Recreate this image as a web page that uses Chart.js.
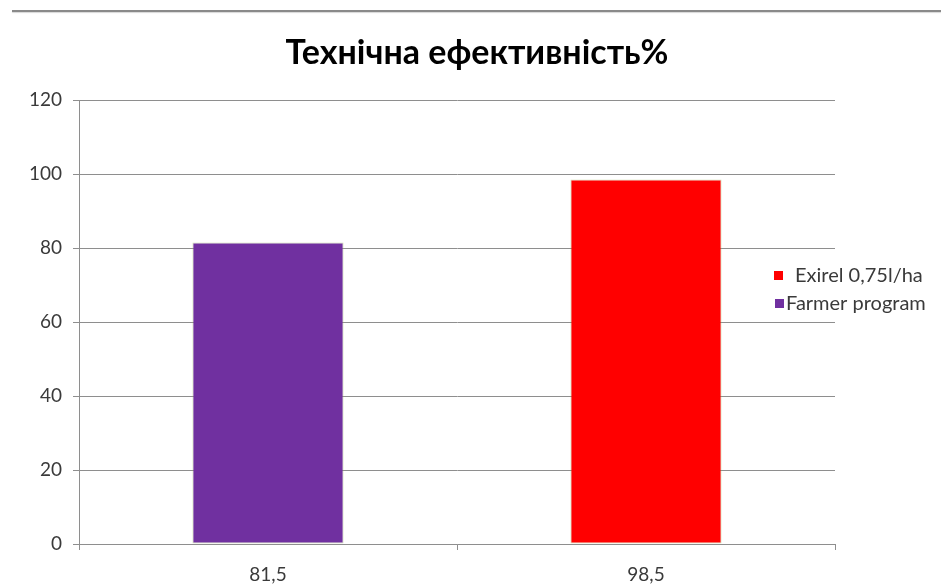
<!DOCTYPE html>
<html>
<head>
<meta charset="utf-8">
<script src="https://cdn.jsdelivr.net/npm/chart.js@4/dist/chart.umd.min.js"></script>
<style>
  html, body { margin: 0; padding: 0; background: #fff; }
  #wrap { position: relative; width: 941px; height: 585px; }
  #topRule { position: absolute; left: 12px; right: 0; top: 10px; height: 2px; background: #8a8a8a; box-shadow: 0 1px 1px #d8d8d8; }
</style>
</head>
<body>
<div id="wrap">
  <div id="topRule"></div>
  <canvas id="effChart" width="941" height="585"></canvas>
</div>
<script>
  const titleText = 'Технічна ефективність%';
  const categories = ['81,5', '98,5'];
  const values = [81.5, 98.5];
  const barColors = ['#7030A0', '#FF0000'];
  const legendLabels = ['Exirel 0,75l/ha', 'Farmer program'];
  const legendColors = ['#FF0000', '#7030A0'];
  const yMin = 0;
  const yMax = 120;
  const yStep = 20;

  const fontFamily = 'Lato, "Open Sans", sans-serif';
  const textColor = '#3a3a3a';

  // title and legend drawn by hand so they sit where the original ones sit
  const headAndLegend = {
    id: 'headAndLegend',
    afterDraw(chart) {
      const ctx = chart.ctx;
      ctx.save();

      ctx.font = `bold 34px ${fontFamily}`;
      ctx.fillStyle = '#000';
      ctx.textAlign = 'center';
      ctx.textBaseline = 'alphabetic';
      ctx.fillText(titleText, 477, 64);

      ctx.font = `20px ${fontFamily}`;
      ctx.textAlign = 'left';
      ctx.textBaseline = 'middle';
      const rows = [
        { box: 774, text: 795, y: 276 },
        { box: 775, text: 786, y: 304 },
      ];
      legendLabels.forEach((label, i) => {
        const row = rows[i];
        ctx.fillStyle = legendColors[i];
        ctx.fillRect(row.box, row.y - 5, 9, 9);
        ctx.fillStyle = textColor;
        ctx.fillText(label, row.text, row.y);
      });
      ctx.restore();
    },
  };

  new Chart(document.getElementById('effChart'), {
    type: 'bar',
    data: {
      labels: categories,
      datasets: [
        {
          data: values,
          backgroundColor: barColors,
          borderColor: 'rgba(155, 187, 89, 0.45)',
          borderWidth: 1,
          borderSkipped: false,
          categoryPercentage: 1,
          barPercentage: 0.4,
        },
      ],
    },
    options: {
      responsive: false,
      animation: false,
      layout: { padding: { left: 0, right: 106, top: 100, bottom: 0 } },
      plugins: {
        legend: { display: false },
        tooltip: { enabled: false },
        title: { display: false },
      },
      scales: {
        x: {
          grid: {
            offset: true,
            drawOnChartArea: false,
            drawTicks: true,
            tickLength: 6,
            color: '#8e8e8e',
          },
          border: { color: '#8e8e8e', width: 1 },
          ticks: {
            color: textColor,
            padding: 13,
            font: { family: fontFamily, size: 19 },
          },
          afterFit: (scale) => { scale.height = 41; },
        },
        y: {
          min: yMin,
          max: yMax,
          ticks: {
            stepSize: yStep,
            color: textColor,
            padding: 11,
            font: { family: fontFamily, size: 19 },
          },
          grid: {
            color: '#8e8e8e',
            tickLength: 6,
          },
          border: { color: '#8e8e8e', width: 1 },
          afterFit: (scale) => { scale.width = 79; },
        },
      },
    },
    plugins: [headAndLegend],
  });
</script>
</body>
</html>
